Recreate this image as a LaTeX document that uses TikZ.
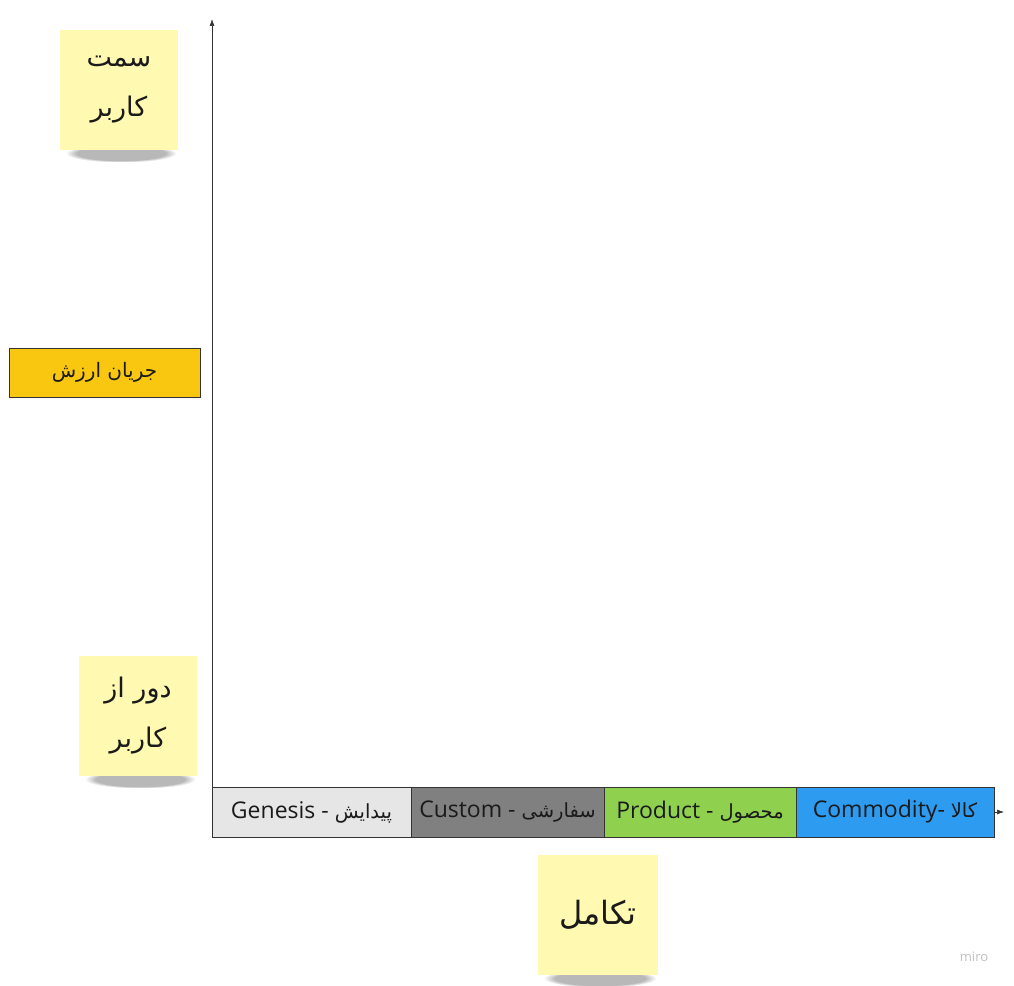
\documentclass[tikz,border=0pt]{standalone}
\usepackage{fontspec}
\setmainfont{Open Sans}
\newfontfamily\arabicfont[Script=Arabic]{DejaVu Sans}
\TeXXeTstate=1
\usepackage{xcolor}
\usetikzlibrary{arrows.meta,positioning,fadings,backgrounds,calc}
\definecolor{notey}{HTML}{FFF9B1}
\definecolor{valuey}{HTML}{FAC710}
\definecolor{genc}{HTML}{E6E6E6}
\definecolor{cusc}{HTML}{808080}
\definecolor{proc}{HTML}{8FD14F}
\definecolor{comc}{HTML}{2D9BF0}
\definecolor{bdr}{HTML}{333333}
\definecolor{txt}{HTML}{1A1A1A}
\newcommand{\fatxt}[1]{{\arabicfont\fontsize{19.5}{22}\selectfont\beginR #1\endR}}

\begin{document}
\begin{tikzpicture}[x=1pt,y=1pt,
		note/.style={fill=notey,text=txt,minimum width=118pt,minimum height=120pt,inner sep=0pt,align=center,
			font=\arabicfont\fontsize{27}{50}\selectfont},
		seg/.style={draw=bdr,line width=0.8pt,outer sep=0pt,minimum width=#1,minimum height=50pt,inner sep=0pt,
			text=txt,font=\fontsize{23}{26}\selectfont},
		axis/.style={-{Latex[length=7pt,width=5pt]},line width=0.7pt,bdr},
		shade/.style={fill=black,opacity=.28,path fading=circle with fuzzy edge 20 percent}]
		\useasboundingbox (0,0) rectangle (1014,985);
		% axes
		\coordinate (origin) at (212,148);
		\coordinate (ytop) at (212,966);
		\coordinate (xbase) at (212,173);
		\coordinate (xend) at (1004,173);
		\draw [axis] (origin) -- (ytop);
		\draw [axis] (xbase) -- (xend);
		% evolution bar
		\node[seg=199pt,fill=genc,anchor=south west] (gen) at (origin) {Genesis - \fatxt{پیدایش}};
		\node[seg=193pt,fill=cusc,right=0pt of gen] (cus) {Custom - \fatxt{سفارشی}};
		\node[seg=192pt,fill=proc,right=0pt of cus] (pro) {Product - \fatxt{محصول}};
		\node[seg=198pt,fill=comc,right=0pt of pro] (com) {Commodity- \fatxt{کالا}};
		% sticky notes
		\node[note] (user) at (119,895) {\beginR سمت\endR\\\beginR کاربر\endR};
		\node[note] (far) at (138,269) {\beginR دور از\endR\\\beginR کاربر\endR};
		\node[note,minimum width=120pt,font=\arabicfont\fontsize{32}{40}\selectfont] (evo) at (598,70) {\beginR تکامل\endR};
		\node[draw=bdr,line width=0.8pt,fill=valuey,text=txt,minimum width=191pt,minimum height=49pt,
			font=\arabicfont\fontsize{20}{22}\selectfont] (value) at (104.5,612.5) {\beginR جریان ارزش\endR};
		\node[text=black!25,font=\fontsize{13}{15}\selectfont] (miro) at (974,28) {miro};
		\begin{scope}[on background layer]
			\foreach \s in {user,far,evo}
				\fill[shade] ($(\s.south west)+(6,-12)$) rectangle ($(\s.south east)+(-2,6)$);
		\end{scope}
	\end{tikzpicture}
\end{document}
